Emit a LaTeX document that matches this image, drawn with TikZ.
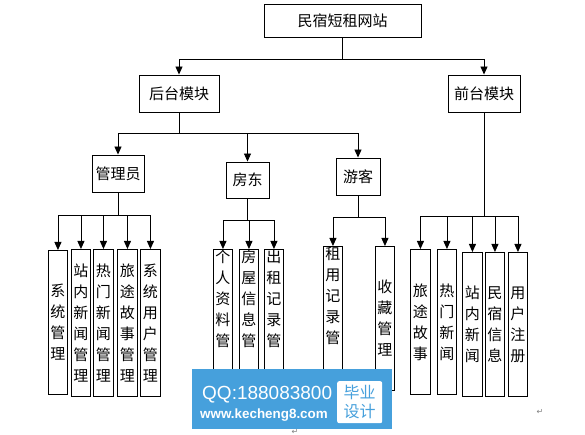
\documentclass[tikz,border=0pt]{standalone}
\usepackage{fontspec}
\setmainfont{Liberation Sans}
\newfontfamily\cjk{Noto Sans CJK SC}
\newfontfamily\dejavu{DejaVu Sans}
\usetikzlibrary{arrows.meta}
\definecolor{wmblue}{RGB}{70,160,220}
\begin{document}
\begin{tikzpicture}[x=1pt,y=-1pt,
  box/.style={draw=black, line width=0.9pt, inner sep=0pt, font=\cjk\fontsize{15}{15}\selectfont},
  leaf/.style={draw=black, line width=0.9pt, inner sep=0pt, anchor=north west, minimum width=19pt, minimum height=145pt, align=center, font=\cjk\fontsize{15}{21}\selectfont},
  vtext/.style={inner sep=0pt, align=center, font=\cjk\fontsize{15}{21}\selectfont},
  link/.style={draw=black, line width=0.9pt},
  arr/.style={link, -{Triangle[length=8pt,width=7pt]}},
]
\useasboundingbox (0,0) rectangle (585,435);
\fill[white] (0,0) rectangle (585,435);

% top level
\node[box, minimum width=157pt, minimum height=33pt] (top) at (342.5,20.5) {民宿短租网站};
\node[box, minimum width=80pt, minimum height=37pt] (back) at (179,93.5) {后台模块};
\node[box, minimum width=72pt, minimum height=37pt] (front) at (484,93.5) {前台模块};

% second level
\node[box, minimum width=52pt, minimum height=37pt] (admin) at (118,173.5) {管理员};
\node[box, minimum width=43pt, minimum height=36pt] (host) at (247.5,180) {房东};
\node[box, minimum width=44pt, minimum height=37pt] (guest) at (358,176.5) {游客};

% admin leaves
\node[leaf, minimum height=144pt] (a1) at (48,250) {系\\统\\管\\理};
\node[leaf, minimum height=147pt] (a2) at (71,249) {站\\内\\新\\闻\\管\\理};
\node[leaf, minimum height=147pt, minimum width=20pt] (a3) at (93,249) {热\\门\\新\\闻\\管\\理};
\node[leaf, minimum height=147pt, minimum width=20pt] (a4) at (117,249) {旅\\途\\故\\事\\管\\理};
\node[leaf, minimum height=147pt, minimum width=20pt] (a5) at (140,249) {系\\统\\用\\户\\管\\理};

% host leaves
\node[leaf, minimum height=147pt] (b1) at (213,249) {};
\node[leaf, minimum height=147pt] (b2) at (239,249) {};
\node[leaf, minimum height=147pt] (b3) at (264,249) {};
\node[vtext, anchor=north] (b1t) at ([yshift=-1pt]b1.north) {个\\人\\资\\料\\管};
\node[vtext, anchor=north] (b2t) at ([yshift=-1pt]b2.north) {房\\屋\\信\\息\\管};
\node[vtext, anchor=north] (b3t) at ([yshift=-1pt]b3.north) {出\\租\\记\\录\\管};

% guest leaves
\node[leaf, minimum height=147pt] (c1) at (323,246) {};
\node[vtext, anchor=north] (c1t) at ([yshift=-0.5pt]c1.north) {租\\用\\记\\录\\管};
\node[leaf, minimum height=144pt] (c2) at (375,246) {收\\藏\\管\\理};

% front leaves
\node[leaf, minimum width=20pt] (d1) at (410,249) {旅\\途\\故\\事};
\node[leaf] (d2) at (437,249) {热\\门\\新\\闻};
\node[leaf, minimum width=20pt, minimum height=144pt] (d3) at (462,252) {站\\内\\新\\闻};
\node[leaf, minimum height=144pt] (d4) at (485,252) {民\\宿\\信\\息};
\node[leaf, minimum height=144pt] (d5) at (508,252) {用\\户\\注\\册};

% bus levels
\coordinate (busT) at (0,59);
\coordinate (busB) at (0,133);
\coordinate (busA) at (0,215);
\coordinate (busH) at (0,220);
\coordinate (busG) at (0,217);
\coordinate (busF) at (0,216);

% connectors
\foreach \c in {back,front}
  \draw[arr] (top.south) -- (top.south |- busT) -| (\c.north);
\foreach \c in {admin,host,guest}
  \draw[arr] (back.south) -- (back.south |- busB) -| (\c.north);
\foreach \c in {a1,a2,a3,a4,a5}
  \draw[arr] (admin.south) -- (admin.south |- busA) -| (\c.north);
\foreach \c in {b1,b2,b3}
  \draw[arr] (host.south) -- (host.south |- busH) -| (\c.north);
\foreach \c in {c1,c2}
  \draw[arr] (guest.south) -- (guest.south |- busG) -| (\c.north);
\foreach \c in {d1,d2,d3,d4,d5}
  \draw[arr] (front.south) -- (front.south |- busF) -| (\c.north);

% watermark
\node[fill=wmblue, minimum width=200pt, minimum height=60pt, anchor=north west, inner sep=0pt] (wm) at (192,369) {};
\node[anchor=base west, text=white, font=\fontsize{19}{19}\selectfont, inner sep=0pt] (qq) at (202,399) {QQ:188083800};
\node[anchor=base west, text=white, font=\bfseries\fontsize{13.4}{13.4}\selectfont, inner sep=0pt] (url) at (200,418) {www.kecheng8.com};
\node[fill=white, rounded corners=2pt, minimum width=45pt, minimum height=42pt, anchor=north west, inner sep=0pt] (bysj) at (337,381) {};
\node[text=wmblue, font=\cjk\fontsize{16}{19}\selectfont, align=center, inner sep=0pt] (bysjt) at (bysj.center) {毕业\\设计};

% paragraph marks
\node[text=gray, font=\dejavu\fontsize{8}{8}\selectfont, inner sep=0pt] (ret1) at (540,412) {↵};
\node[text=gray, font=\dejavu\fontsize{8}{8}\selectfont, inner sep=0pt] (ret2) at (295,432) {↵};
\end{tikzpicture}
\end{document}
